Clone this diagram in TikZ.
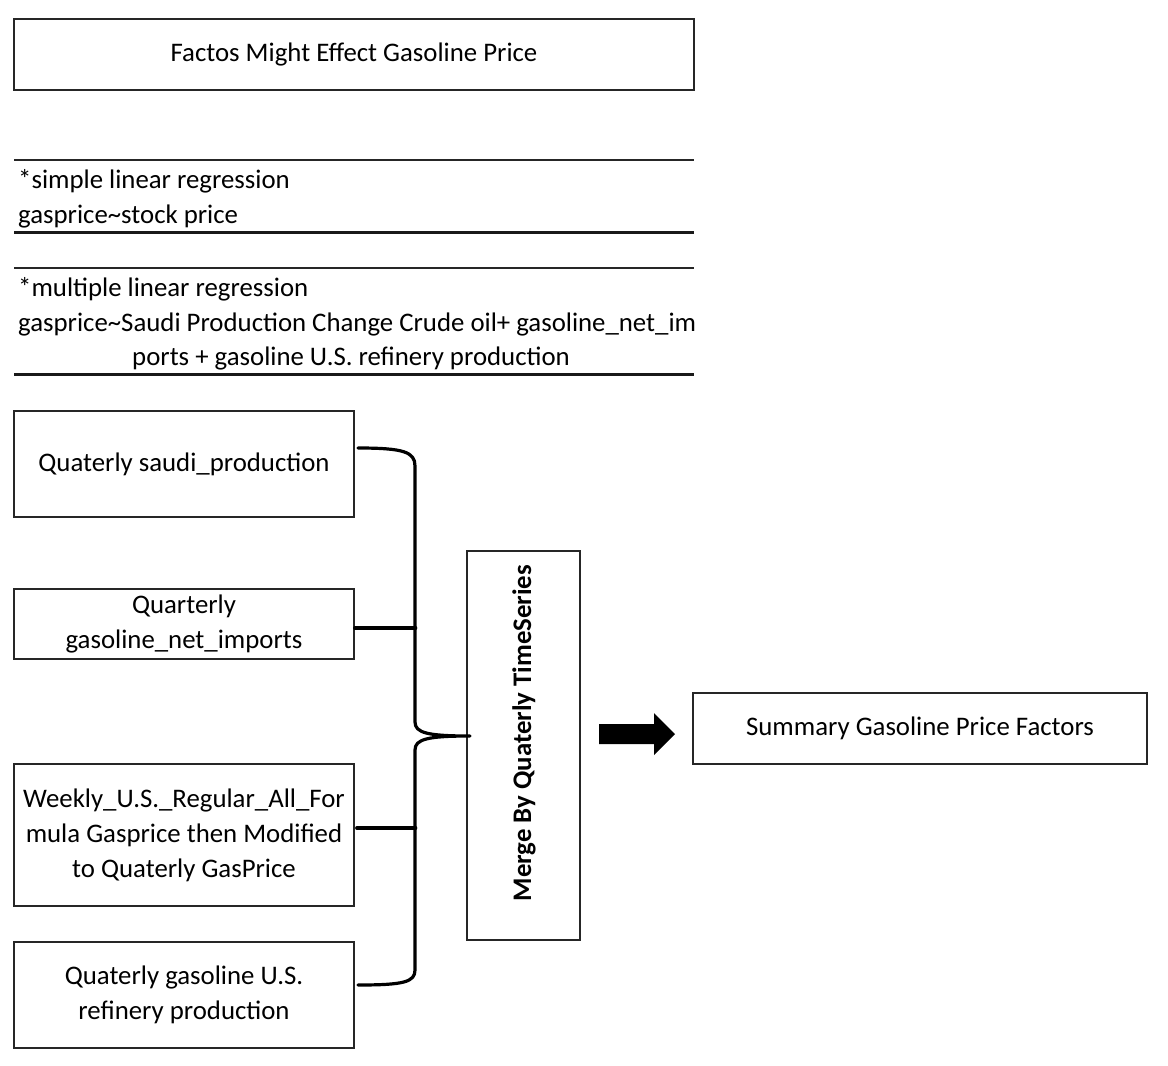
\documentclass[tikz,border=0pt]{standalone}
\usepackage{fontspec}
\setmainfont{Carlito}
\begin{document}
\begin{tikzpicture}[x=1pt,y=-1pt,
  font=\fontsize{26.8}{35}\selectfont,
  box/.style={draw=black!85, line width=1.4pt, inner sep=0pt, align=center},
  thinrule/.style={line width=1.4pt, draw=black!85},
  thickrule/.style={line width=3pt, draw=black!90},
  lefttext/.style={anchor=west, inner sep=0pt},
  brace/.style={line width=3.2pt, line cap=round, line join=round}]
\useasboundingbox (0,0) rectangle (1168,1066);

% title
\node[box, minimum width=680pt, minimum height=71pt] (title) at (354,54.5) {Factos Might Effect Gasoline Price};

% table 1
\coordinate (t1a) at (14,160); \coordinate (t1b) at (694,160);
\coordinate (t1c) at (14,232); \coordinate (t1d) at (694,232);
\draw[thinrule] (t1a) -- (t1b);
\draw[thickrule] (t1c) -- (t1d);
\node[lefttext] (s1) at (18,181) {*simple linear regression};
\node[lefttext] (s2) at (18,216) {gasprice\char`\~stock price};

% table 2
\coordinate (t2a) at (14,268); \coordinate (t2b) at (694,268);
\coordinate (t2c) at (14,374); \coordinate (t2d) at (694,374);
\draw[thinrule] (t2a) -- (t2b);
\draw[thickrule] (t2c) -- (t2d);
\node[lefttext] (m1) at (18,289) {*multiple linear regression};
\node[lefttext] (m2) at (18,324) {gasprice\char`\~Saudi Production Change Crude oil+ gasoline\_net\_im};
\node[inner sep=0pt] (m3) at (351,358) {ports + gasoline U.S. refinery production};

% input boxes
\node[box, minimum width=340pt, minimum height=106pt] (A) at (184,464) {Quaterly saudi\_production};
\node[box, minimum width=340pt, minimum height=70pt] (B) at (184,624) {Quarterly\\gasoline\_net\_imports};
\node[box, minimum width=340pt, minimum height=142pt] (C) at (184,835) {Weekly\_U.S.\_Regular\_All\_For\\mula Gasprice then Modified\\to Quaterly GasPrice};
\node[box, minimum width=340pt, minimum height=106pt] (D) at (184,995) {Quaterly gasoline U.S.\\refinery production};

% merge box
\node[box, minimum width=113pt, minimum height=389pt] (M) at (523.5,745.5) {};
\node[rotate=90, font=\fontsize{26.8}{35}\selectfont\bfseries] (Mt) at (524,733) {Merge By Quaterly TimeSeries};

% summary
\node[box, minimum width=454pt, minimum height=71pt] (S) at (920,728.5) {Summary Gasoline Price Factors};

% brace
\coordinate (tip) at (470,736);
\draw[brace] (358,448) .. controls (404,448) and (415,452) .. (415,466) -- (415,722)
  .. controls (415,733) and (428,736) .. (tip)
  .. controls (428,736) and (415,739) .. (415,750) -- (415,970)
  .. controls (415,982) and (404,985) .. (358,985);
\draw[brace] ([yshift=-4pt]B.east) -- ++(61,0);
\draw[brace] ([xshift=2pt,yshift=7pt]C.east) -- ++(59,0);

% arrow
\coordinate (a0) at (599,734);
\fill[black] (a0) ++(0,-10) -- ++(55,0) -- ++(0,-11) -- (675,734) -- (654,755) -- ++(0,-11) -- (599,744) -- cycle;
\end{tikzpicture}
\end{document}
